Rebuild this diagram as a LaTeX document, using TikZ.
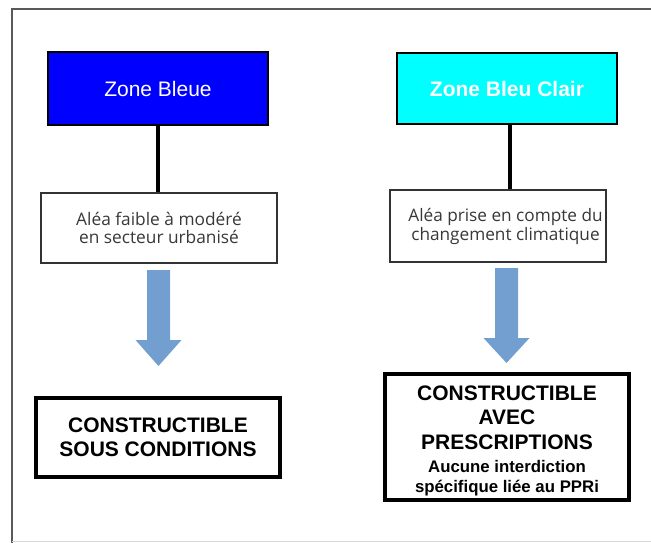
\documentclass[tikz,border=0pt]{standalone}
\usepackage{fontspec}
\setmainfont{Liberation Sans}
\newfontfamily\aleafont{Open Sans}
\definecolor{zblue}{RGB}{0,0,255}
\definecolor{zcyan}{RGB}{0,255,255}
\definecolor{arrowblue}{RGB}{114,159,207}
\definecolor{aleatext}{RGB}{56,56,56}
\begin{document}
\begin{tikzpicture}[x=1pt,y=-1pt,
  zonebox/.style={draw=black,line width=2pt,minimum width=220pt,minimum height=72pt,inner sep=0pt,text=white,font=\fontsize{21}{24}\selectfont},
  aleabox/.style={draw=black!80,line width=1.5pt,fill=white,inner sep=0pt,align=center,text=aleatext},
  resbox/.style={draw=black,line width=3.5pt,inner sep=0pt,align=center,font=\bfseries\fontsize{21}{24}\selectfont},
  link/.style={draw=black,line width=4pt},
  bigarrow/.style={fill=arrowblue}]
\useasboundingbox (0,0) rectangle (651,543);
% frame
\draw[black!65,line width=1.5pt] (12,543) -- (12,9) -- (651,9);
\draw[black!15,line width=1.5pt] (12,541.5) -- (651,541.5);
% nodes
\node[zonebox,fill=zblue] (zb) at (158,88.5) {Zone Bleue};
\node[zonebox,fill=zcyan,font=\bfseries\fontsize{21}{24}\selectfont,minimum height=71pt] (zbc) at (507,88.5) {Zone Bleu Clair};
\node[aleabox,minimum width=236pt,minimum height=70pt,font=\aleafont\fontsize{17.3}{18}\selectfont] (al) at (159,228) {Aléa faible à modéré\\en secteur urbanisé};
\node[aleabox,minimum width=216pt,minimum height=72pt,font=\aleafont\fontsize{17.2}{19}\selectfont] (ar) at (498,226) {\hspace*{15pt}Aléa prise en compte du\\\hspace*{15pt}changement climatique};
\node[resbox,minimum width=244pt,minimum height=79pt] (cl) at (158,437.5) {CONSTRUCTIBLE\\SOUS CONDITIONS};
\node[resbox,minimum width=244pt,minimum height=126pt] (cr) at (507,437) {\rule{0pt}{21.5pt}CONSTRUCTIBLE\\AVEC\\[1pt]PRESCRIPTIONS\\[-1pt]\fontsize{16.8}{22}\selectfont Aucune interdiction\\[-4pt]\fontsize{16.8}{18}\selectfont spécifique liée au PPRi};
% links
\draw[link] (zb.south) -- (zb.south |- al.north);
\draw[link] ([xshift=3pt]zbc.south) -- ([xshift=3pt]zbc.south |- ar.north);
% block arrows
\coordinate (lt) at (158.5,270);
\coordinate (rt) at (506.5,268);
\fill[bigarrow] (lt) ++(-11.5,0) -- ++(23,0) -- ++(0,70) -- ++(11.5,0) -- ++(-23,26) -- ++(-23,-26) -- ++(11.5,0) -- cycle;
\fill[bigarrow] (rt) ++(-11.5,0) -- ++(23,0) -- ++(0,70) -- ++(11.5,0) -- ++(-23,25) -- ++(-23,-25) -- ++(11.5,0) -- cycle;
\end{tikzpicture}
\end{document}
